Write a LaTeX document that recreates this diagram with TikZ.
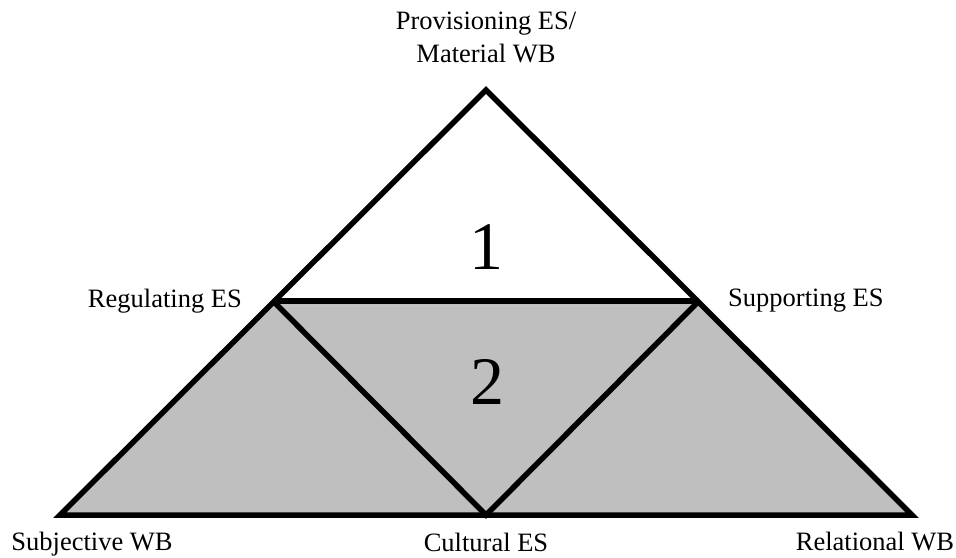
\documentclass[tikz,border=0pt]{standalone}
\usepackage{fontspec}
\setmainfont{Liberation Serif}
\usetikzlibrary{positioning}

\begin{document}
\begin{tikzpicture}[x=1pt, y=-1pt]
			\tikzstyle{Label} = [inner sep=0pt, font=\fontsize{26.5}{33}\selectfont, align=center]
			\tikzstyle{Number} = [inner sep=0pt, font=\fontsize{68}{68}\selectfont, anchor=base]
			\tikzstyle{Border} = [line width=5.5pt, draw=black]
			\definecolor{regionGray}{RGB}{191,191,191}
			
			\useasboundingbox (0,0) rectangle (956,557);
			
			\coordinate (provisioning) at (486,90);
			\coordinate (regulating) at (273,301);
			\coordinate (supporting) at (699,301);
			\coordinate (subjective) at (60,515);
			\coordinate (cultural) at (486,515);
			\coordinate (relational) at (912,515);
			
			\fill[regionGray] (regulating) -- (supporting) -- (relational) -- (subjective) -- cycle;
			\draw[gray!45, line width=1pt] ([xshift=6pt, yshift=-5pt]regulating) -- ([xshift=-6pt, yshift=-5pt]supporting);
			
			\draw[Border] (provisioning) -- (relational) -- (subjective) -- cycle;
			\draw[Border] (regulating) -- (supporting);
			\draw[Border] (regulating) -- (cultural) -- (supporting);
			
			\node (provisioningLabel) [Label, above = 27pt of provisioning] {Provisioning ES/\\Material WB};
			\node (regulatingLabel) [Label, left = 31pt of regulating] {Regulating ES};
			\node (supportingLabel) [Label, right = 29pt of supporting] {Supporting ES};
			\node (subjectiveLabel) [Label, below = 17pt of subjective, xshift=32pt] {Subjective WB};
			\node (culturalLabel) [Label, below = 18pt of cultural] {Cultural ES};
			\node (relationalLabel) [Label, below = 17pt of relational, xshift=-37pt] {Relational WB};
			
			\node (regionOne) [Number] at (486,269) {1};
			\node (regionTwo) [Number] at (487,404) {2};
\end{tikzpicture}
\end{document}
